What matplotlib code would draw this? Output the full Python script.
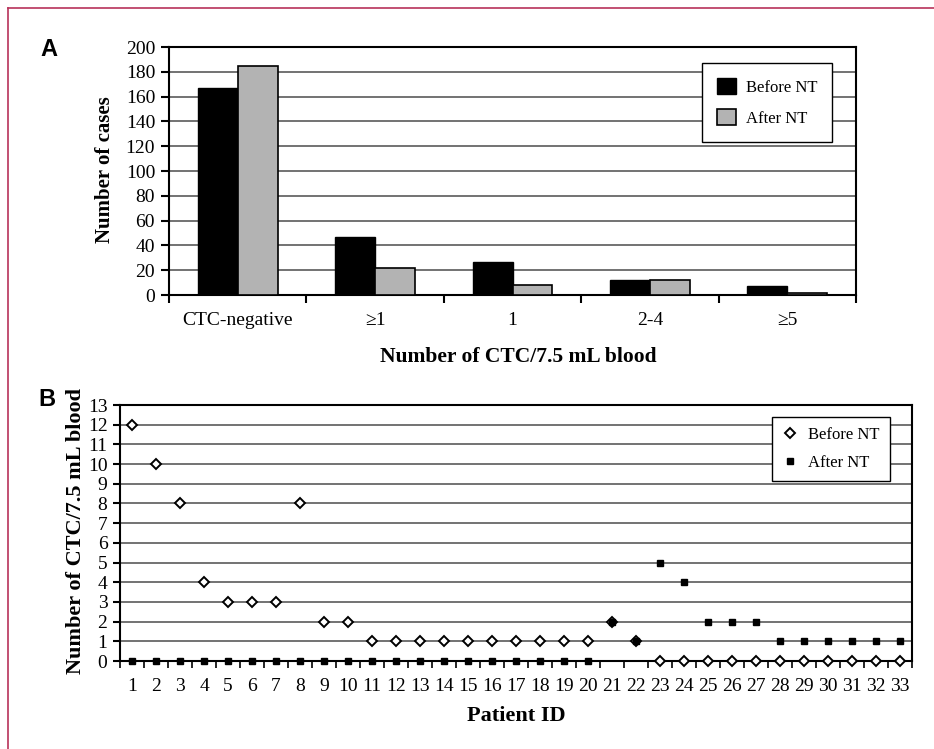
import numpy as np
import matplotlib
matplotlib.use("Agg")
import matplotlib.pyplot as plt
from matplotlib.lines import Line2D
from matplotlib.patches import Patch
from matplotlib.ticker import MultipleLocator

plt.rcParams['font.family'] = ['Liberation Serif', 'DejaVu Serif']

# Panel A data
categories = ['CTC-negative', '\u22651', '1', '2-4', '\u22655']
before_counts = [167, 47, 27, 12, 7]
after_counts = [185, 22, 8, 12, 2]

# Panel B data
patient_ids = list(range(1, 34))
before_ctc = [12, 10, 8, 4, 3, 3, 3, 8, 2, 2, 1, 1, 1, 1, 1, 1, 1, 1, 1, 1,
              2, 1, 0, 0, 0, 0, 0, 0, 0, 0, 0, 0, 0]
after_ctc = [0, 0, 0, 0, 0, 0, 0, 0, 0, 0, 0, 0, 0, 0, 0, 0, 0, 0, 0, 0,
             2, 1, 5, 4, 2, 2, 2, 1, 1, 1, 1, 1, 1]

W, H = 934, 749
fig = plt.figure(figsize=(W / 100, H / 100), dpi=100)

def fx(px):
    return px / W

def fy(py):
    return 1 - py / H

grid_color = '#5a5a5a'

# ---------------- Panel A ----------------
axA = fig.add_axes([fx(169), fy(295), fx(856) - fx(169), fy(47) - fy(295)])
x = np.arange(len(categories))
bw = 0.29
axA.bar(x - bw / 2, before_counts, bw, color='black', edgecolor='black', linewidth=1, zorder=3)
axA.bar(x + bw / 2, after_counts, bw, color='#b3b3b3', edgecolor='black', linewidth=1.2, zorder=3)
axA.set_xlim(-0.5, len(categories) - 0.5)
axA.set_ylim(0, 200)
axA.yaxis.set_major_locator(MultipleLocator(20))
for v in range(20, 200, 20):
    axA.axhline(v, color=grid_color, lw=1.2, zorder=1)
axA.set_xticks(x)
axA.set_xticklabels(categories)
axA.set_xticks(np.arange(-0.5, len(categories)), minor=True)
axA.tick_params(axis='x', which='major', length=0, pad=12, labelsize=14)
axA.tick_params(axis='x', which='minor', length=6, width=1.5, direction='out')
axA.tick_params(axis='y', length=6, width=1.5, pad=4, labelsize=14)
for s in axA.spines.values():
    s.set_linewidth(1.5)

legA = axA.legend(handles=[Patch(facecolor='black', edgecolor='black', label='Before NT'),
                           Patch(facecolor='#b3b3b3', edgecolor='black', linewidth=1.2, label='After NT')],
                  loc='upper right', bbox_to_anchor=(fx(832), fy(63)), bbox_transform=fig.transFigure,
                  borderaxespad=0, fancybox=False, framealpha=1, edgecolor='black', fontsize=12,
                  handlelength=1.1, handleheight=1.1, handletextpad=0.6, borderpad=0.9, labelspacing=0.8)
legA.get_frame().set_linewidth(1)

fig.text(fx(105), fy(170), 'Number of cases', rotation=90, ha='center', va='center',
         fontsize=15, fontweight='bold')
fig.text(fx(518), fy(357), 'Number of CTC/7.5 mL blood', ha='center', va='center',
         fontsize=15.5, fontweight='bold')

# ---------------- Panel B ----------------
axB = fig.add_axes([fx(120), fy(661), fx(912) - fx(120), fy(405) - fy(661)])
axB.plot(patient_ids, before_ctc, linestyle='none', marker='D', markersize=5,
         markerfacecolor='white', markeredgecolor='black', markeredgewidth=1.4,
         label='Before NT', zorder=4, clip_on=False)
axB.plot(patient_ids, after_ctc, linestyle='none', marker='s', markersize=4.5,
         color='black', label='After NT', zorder=5, clip_on=False)
axB.set_xlim(0.5, 33.5)
axB.set_ylim(0, 13)
axB.set_yticks(range(0, 14))
for v in range(1, 13):
    axB.axhline(v, color=grid_color, lw=1.2, zorder=1)
axB.set_xticks(patient_ids)
axB.set_xticks(np.arange(0.5, 34), minor=True)
axB.tick_params(axis='x', which='major', length=0, pad=12, labelsize=14)
axB.tick_params(axis='x', which='minor', length=5, width=1.2, direction='out')
axB.tick_params(axis='y', length=5, width=1.5, pad=4, labelsize=14)
for s in axB.spines.values():
    s.set_linewidth(1.5)

legB = axB.legend(loc='upper right', bbox_to_anchor=(fx(890), fy(417)), bbox_transform=fig.transFigure,
                  borderaxespad=0, fancybox=False, framealpha=1, edgecolor='black', fontsize=12,
                  handlelength=1.0, handletextpad=0.6, borderpad=0.6, labelspacing=0.7)
legB.get_frame().set_linewidth(1)

fig.text(fx(76), fy(531), 'Number of CTC/7.5 mL blood', rotation=90, ha='center', va='center',
         fontsize=16, fontweight='bold')
fig.text(fx(516), fy(716), 'Patient ID', ha='center', va='center',
         fontsize=16, fontweight='bold')

# panel letters
fig.text(fx(49), fy(50), 'A', ha='center', va='center', fontsize=17, fontweight='bold',
         family='Liberation Sans')
fig.text(fx(47), fy(400), 'B', ha='center', va='center', fontsize=17, fontweight='bold',
         family='Liberation Sans')

# page frame
frame_color = '#b8325a'
fig.add_artist(Line2D([fx(8), fx(8)], [fy(8), 0], color=frame_color, lw=1.2))
fig.add_artist(Line2D([fx(8), 1], [fy(8), fy(8)], color=frame_color, lw=1.2))

fig.savefig('out.png', dpi=100)
